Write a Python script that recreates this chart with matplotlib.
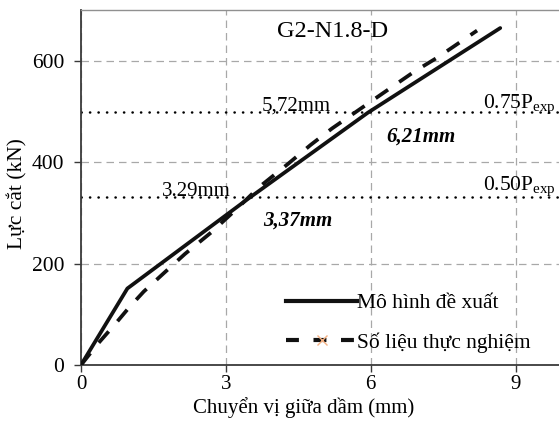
import matplotlib
matplotlib.use("Agg")
import matplotlib.pyplot as plt
from matplotlib.lines import Line2D

plt.rcParams['font.family'] = ['Liberation Serif', 'DejaVu Serif']
plt.rcParams['mathtext.fontset'] = 'custom'
plt.rcParams['mathtext.rm'] = 'Liberation Serif'
plt.rcParams['mathtext.it'] = 'Liberation Serif:italic'

# ---- data ----
title = "G2-N1.8-D"
model_x = [0, 0.96, 3.43, 5.94, 8.68]
model_y = [0, 151, 326, 498, 665]
exp_x = [0, 0.35, 0.7, 1.0, 1.3, 1.7, 2.15, 2.7, 3.2, 3.7, 4.3, 4.75, 5.2, 5.7, 6.2, 6.9, 7.4, 8.2]
exp_y = [0, 42, 80, 114, 145, 180, 219, 262, 306, 352, 398, 434, 467, 500, 533, 579, 608, 660]
P_exp = 665
levels = [0.50, 0.75]
level_labels = ["0.50P$_{\\mathrm{exp}}$", "0.75P$_{\\mathrm{exp}}$"]
exp_disp_labels = ["3.29mm", "5,72mm"]
model_disp_labels = ["3,37mm", "6,21mm"]
xticks = [0, 3, 6, 9]
yticks = [0, 200, 400, 600]
series_labels = ["Mô hình đề xuất", "Số liệu thực nghiệm"]
xlabel = "Chuyển vị giữa dầm (mm)"
ylabel = "Lực cắt (kN)"

W, H = 559, 423
fig = plt.figure(figsize=(W / 100, H / 100), dpi=100)
ax = fig.add_axes([81 / W, (H - 365) / H, (564 - 81) / W, (365 - 10.3) / H])
ax.set_xlim(0, 10)
ax.set_ylim(0, 700)
ax.set_xticks(xticks)
ax.set_yticks(yticks)

ax.grid(True, color='#a8a8a8', ls=(0, (6, 4)), lw=0.9, zorder=0)
ax.set_axisbelow(True)

for s in ['left', 'bottom']:
    ax.spines[s].set_color('#3a3a3a')
    ax.spines[s].set_linewidth(1.3)
ax.spines['top'].set_color('#909090')
ax.spines['top'].set_linewidth(1.0)
ax.spines['right'].set_visible(False)
ax.tick_params(axis='both', direction='out', length=5, width=1.0, color='#3a3a3a',
               labelsize=15.5, pad=7)
ax.tick_params(axis='x', labelsize=15, pad=2)

# dotted reference levels
for lv in levels:
    ax.axhline(lv * P_exp, color='black', lw=1.8, ls=(0, (0.1, 3.3)),
               dash_capstyle='round', zorder=2)

ax.plot(model_x, model_y, color='#111111', lw=2.7, solid_capstyle='round', zorder=3)
ax.plot(exp_x, exp_y, color='#111111', lw=2.7, ls=(0, (4, 3.6)), zorder=3)

# annotations
ax.text(9.83, 345, level_labels[0], ha='right', va='baseline', fontsize=15.5)
ax.text(9.83, 507, level_labels[1], ha='right', va='baseline', fontsize=15.5)
ax.text(1.67, 333, exp_disp_labels[0], ha='left', va='baseline', fontsize=15)
ax.text(3.745, 503, exp_disp_labels[1], ha='left', va='baseline', fontsize=15)
ax.text(3.77, 276, model_disp_labels[0], ha='left', va='baseline', fontsize=15,
        fontweight='bold', fontstyle='italic')
ax.text(6.32, 441, model_disp_labels[1], ha='left', va='baseline', fontsize=15,
        fontweight='bold', fontstyle='italic')
ax.text(5.21, 648, title, ha='center', va='baseline', fontsize=17.5)

# legend
handles = [
    Line2D([], [], color='#111111', lw=3),
    Line2D([], [], color='#111111', lw=3, ls=(0, (3.1, 3.5)), marker='x',
           markersize=7, markeredgecolor='#f4b183', markeredgewidth=1.0),
]
ax.legend(handles, series_labels, loc='upper left',
          bbox_to_anchor=(286 / W, 1 - 293 / H), bbox_transform=fig.transFigure,
          frameon=False, fontsize=15.5, handlelength=3.3, handletextpad=0.0,
          borderpad=0, borderaxespad=0, labelspacing=0.9)

fig.text(304 / W, 1 - 413 / H, xlabel, ha='center', va='baseline', fontsize=15)
fig.text(17 / W, 1 - 194 / H, ylabel, ha='center', va='center', rotation=90, fontsize=15.5)

fig.savefig("out.png", dpi=100)
